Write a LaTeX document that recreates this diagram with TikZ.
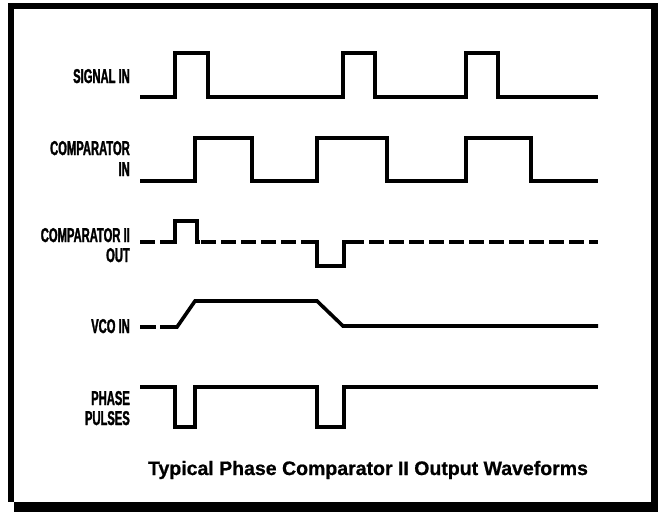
\documentclass[tikz,border=0pt]{standalone}
\usepackage{fontspec}
\setmainfont{Liberation Sans}
\newfontfamily\lblfont[FakeStretch=0.56,FakeBold=1.5]{Liberation Sans}
\newfontfamily\ttlfont[FakeBold=0.8]{Liberation Sans}
\begin{document}
\begin{tikzpicture}[x=1pt,y=-1pt,
  wave/.style={line width=3.6pt,line join=miter,line cap=butt},
  dashwave/.style={wave,dash pattern=on 15pt off 5pt},
  lbl/.style={anchor=base east,inner sep=0pt,font=\lblfont\bfseries\fontsize{20}{20}\selectfont},
  ttl/.style={anchor=base,inner sep=0pt,font=\ttlfont\bfseries\fontsize{19.5}{22}\selectfont}]
\useasboundingbox (0,0) rectangle (658,514);
% frame
\fill (8,3) rectangle (14,502);
\fill (8,3) rectangle (658,9);
\fill (651,3) rectangle (658,512);
\fill (14,502) rectangle (658,512);
% labels
\node[lbl] (sig) at (130,83) {SIGNAL IN};
\node[lbl] (cmp1) at (130,155) {COMPARATOR};
\node[lbl] (cmp2) at (130,176) {IN};
\node[lbl] (out1) at (130,242) {COMPARATOR II};
\node[lbl] (out2) at (130,262) {OUT};
\node[lbl] (vco) at (130,333) {VCO IN};
\node[lbl] (ph1) at (130,405) {PHASE};
\node[lbl] (ph2) at (130,425) {PULSES};
\node[ttl] (title) at (368,475) {Typical Phase Comparator II Output Waveforms};
% SIGNAL IN
\draw[wave] (140,97) -- (175,97) -- (175,53) -- (208,53) -- (208,97) -- (343,97) -- (343,53) -- (375,53) -- (375,97)
  -- (466,97) -- (466,53) -- (498,53) -- (498,97) -- (598,97);
% COMPARATOR IN
\draw[wave] (140,181) -- (195,181) -- (195,138) -- (252,138) -- (252,181) -- (317,181) -- (317,138) -- (387,138) -- (387,181)
  -- (466,181) -- (466,138) -- (531,138) -- (531,181) -- (598,181);
% COMPARATOR II OUT
\draw[dashwave] (140,242) -- (160,242);
\draw[wave] (160,242) -- (175,242) -- (175,221) -- (197,221) -- (197,242) -- (200,242);
\draw[dashwave] (201,242) -- (313,242);
\draw[wave] (311,242) -- (317,242) -- (317,266) -- (344,266) -- (344,242) -- (349,242);
\draw[dashwave] (349,242) -- (598,242);
% VCO IN
\draw[wave] (140,327) -- (156,327);
\draw[wave] (160,327) -- (177,327) -- (195,301) -- (317,301) -- (343,326) -- (598,326);
% PHASE PULSES
\draw[wave] (140,387) -- (175,387) -- (175,427) -- (195,427) -- (195,387) -- (317,387) -- (317,427) -- (344,427) -- (344,387) -- (598,387);
\end{tikzpicture}
\end{document}
